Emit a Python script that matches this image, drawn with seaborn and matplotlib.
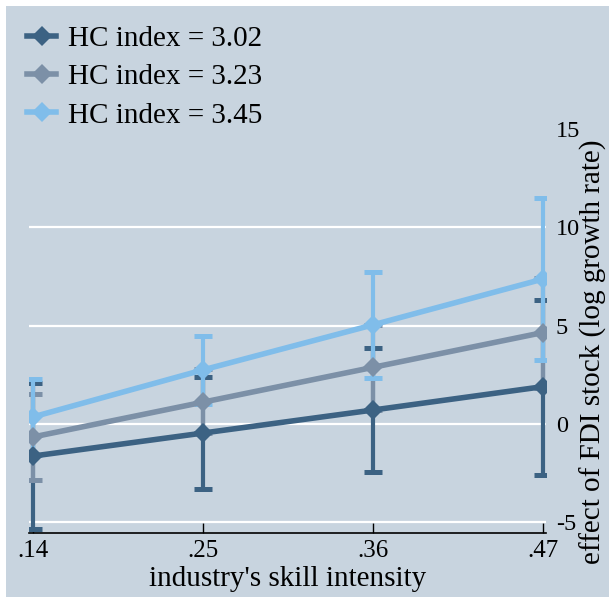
import matplotlib
matplotlib.use("Agg")
import matplotlib.pyplot as plt
from matplotlib.patches import Rectangle
import numpy as np
import pandas as pd
import seaborn as sns

# Predicted effect of FDI stock on growth, by skill intensity and human-capital level
skill = [0.14, 0.25, 0.36, 0.47]
skill_ticks = [".14", ".25", ".36", ".47"]
hc_labels = ["HC index = 3.02", "HC index = 3.23", "HC index = 3.45"]

effect_302 = [-1.63, -0.46, 0.71, 1.90]
lo_302 = [-5.35, -3.31, -2.45, -2.60]
hi_302 = [2.09, 2.39, 3.87, 6.30]

effect_323 = [-0.66, 1.11, 2.88, 4.65]
lo_323 = [-2.86, -0.45, 0.70, 1.85]
hi_323 = [1.54, 2.79, 5.05, 7.40]

effect_345 = [0.36, 2.75, 5.04, 7.37]
lo_345 = [-1.57, 1.02, 2.34, 3.27]
hi_345 = [2.29, 4.48, 7.73, 11.47]

y_ticks = [-5, 0, 5, 10, 15]

colors = ["#3c6283", "#7c90a7", "#80bdea"]
bg = "#c8d4df"

plt.rcParams["font.family"] = ["Liberation Serif", "DejaVu Serif"]

df = pd.DataFrame({
    "skill": skill * 3,
    "effect": effect_302 + effect_323 + effect_345,
    "lo": lo_302 + lo_323 + lo_345,
    "hi": hi_302 + hi_323 + hi_345,
    "hc": [hc_labels[0]] * 4 + [hc_labels[1]] * 4 + [hc_labels[2]] * 4,
})

W, H = 609, 597
fig = plt.figure(figsize=(W / 100, H / 100), dpi=100, facecolor="white")
fig.patches.append(Rectangle((6 / W, 0), 1, 1 - 6 / H, transform=fig.transFigure,
                             facecolor=bg, edgecolor="none", zorder=-10))

ax = fig.add_axes([29 / W, (H - 533) / H, (546 - 29) / W, (533 - 6) / H])
ax.set_facecolor(bg)

# confidence intervals first, lines on top
for lab, col in zip(hc_labels, colors):
    sub = df[df["hc"] == lab]
    yerr = np.vstack([sub["effect"] - sub["lo"], sub["hi"] - sub["effect"]])
    ax.errorbar(sub["skill"], sub["effect"], yerr=yerr, fmt="none", ecolor=col,
                elinewidth=3.0, capsize=6.5, capthick=3.6, zorder=2)

sns.lineplot(data=df, x="skill", y="effect", hue="hc", hue_order=hc_labels,
             palette=colors, marker="D", markersize=10, markeredgewidth=0,
             linewidth=4.0, errorbar=None, ax=ax, zorder=3)

ax.set_xlim(0.14 - 4 / 1545, 0.47 + 3 / 1545)
ax.set_ylim(-(533 - 424) / 19.67, (424 - 6) / 19.67)

ax.set_xticks(skill)
ax.set_xticklabels(skill_ticks)
ax.tick_params(axis="x", direction="in", length=7, width=1, color="black",
               labelsize=18, pad=5)

ax.yaxis.tick_right()
ax.set_yticks(y_ticks)
ax.set_yticklabels([str(v) for v in y_ticks])
ax.tick_params(axis="y", length=0, labelsize=17.5, pad=7)

ax.grid(axis="y", color="white", linewidth=1.6)
ax.grid(axis="x", visible=False)
ax.get_ygridlines()[-1].set_visible(False)
ax.set_axisbelow(True)

for side in ["top", "right", "left"]:
    ax.spines[side].set_visible(False)
ax.spines["bottom"].set_color("black")
ax.spines["bottom"].set_linewidth(1.2)

ax.set_xlabel("industry's skill intensity", fontsize=21, labelpad=3)
ax.set_ylabel("")
fig.text(593 / W, 1 - 352 / H, "effect of FDI stock (log growth rate)",
         rotation=90, ha="center", va="center", fontsize=21)

handles, labels = ax.get_legend_handles_labels()
ax.get_legend().remove()
fig.legend(handles, labels, loc="upper left", bbox_to_anchor=(27 / W, 1 - 26 / H),
           frameon=False, fontsize=21, handlelength=1.0, handletextpad=0.4,
           labelspacing=0.4, borderpad=0, borderaxespad=0)

fig.savefig("out.png", dpi=100, facecolor=fig.get_facecolor())
